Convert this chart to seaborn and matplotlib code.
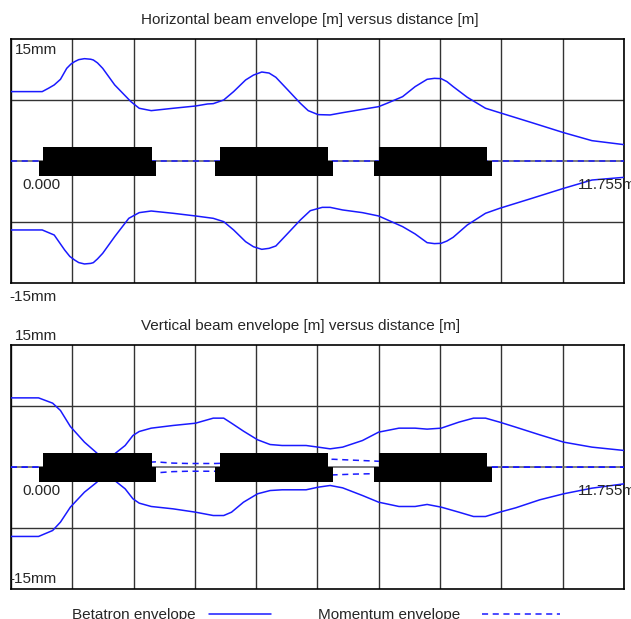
import matplotlib
matplotlib.use("Agg")
import matplotlib.pyplot as plt
import seaborn as sns
import numpy as np
import pandas as pd
from matplotlib.patches import Rectangle
from matplotlib.lines import Line2D

# Beam line length [m]
length = 11.755

# Horizontal envelope (mm) vs distance (m)
hx_up = [0, 0.60, 0.72, 0.83, 0.95, 1.07, 1.15, 1.22, 1.30, 1.41, 1.53, 1.58, 1.66, 1.76, 1.99, 2.30, 2.46, 2.69, 3.11,
         3.54, 3.77, 3.88, 4.08, 4.27, 4.50, 4.65, 4.81, 4.95, 5.08, 5.31, 5.55, 5.70, 5.89, 6.12, 6.36,
         6.74, 7.05, 7.21, 7.51, 7.75, 7.98, 8.12, 8.25, 8.36, 8.48, 8.75, 9.10, 9.37, 9.99, 10.60, 11.14, 11.755]
hy_up = [8.57, 8.57, 8.98, 9.39, 10.08, 11.43, 11.95, 12.25, 12.50, 12.62, 12.55, 12.46, 12.1, 11.43, 9.39, 7.34, 6.52, 6.23, 6.52,
         6.80, 7.05, 7.09, 7.54, 8.57, 10.0, 10.6, 10.98, 10.85, 10.33, 8.77, 7.13, 6.23, 5.74, 5.70, 5.98,
         6.39, 6.72, 7.13, 7.95, 9.18, 10.08, 10.2, 10.16, 9.8, 9.18, 7.87, 6.52, 5.98, 4.75, 3.52, 2.54, 2.05]
hx_lo = [0, 0.60, 0.83, 1.03, 1.13, 1.22, 1.30, 1.41, 1.53, 1.58, 1.66, 1.76, 1.99, 2.26, 2.46, 2.69, 3.11, 3.54, 3.88,
         4.08, 4.27, 4.50, 4.65, 4.81, 4.95, 5.08, 5.31, 5.55, 5.74, 5.97, 6.12, 6.36, 6.74, 7.05, 7.51,
         7.75, 7.98, 8.12, 8.25, 8.36, 8.48, 8.75, 9.10, 9.37, 9.99, 10.60, 11.14, 11.755]
hy_lo = [-8.44, -8.44, -9.06, -10.9, -11.7, -12.13, -12.45, -12.62, -12.55, -12.46, -12.0, -11.31, -9.26, -7.01, -6.31, -6.11, -6.39, -6.72, -7.01,
         -7.42, -8.44, -9.88, -10.5, -10.82, -10.7, -10.41, -8.85, -7.21, -6.07, -5.66, -5.66, -5.98, -6.31, -6.72, -8.03,
         -8.93, -10.0, -10.12, -10.08, -9.8, -9.34, -7.83, -6.39, -5.78, -4.55, -3.32, -2.30, -1.97]

# Vertical envelope (mm): two branches crossing near 1.8 m
vx = [0, 0.53, 0.80, 0.95, 1.14, 1.41, 1.65, 1.81, 1.99, 2.19, 2.34, 2.46, 2.69, 3.11, 3.54,
      3.88, 4.08, 4.23, 4.46, 4.73, 4.97, 5.20, 5.66, 5.89, 6.12, 6.36, 6.74, 7.05, 7.44, 7.75,
      7.98, 8.25, 8.59, 8.87, 9.10, 9.37, 9.68, 10.14, 10.60, 11.14, 11.755]
vy_a = [8.51, 8.51, 7.86, 6.96, 4.99, 3.07, 1.72, 0.0, -1.64, -2.66, -3.89, -4.42, -4.83, -5.12, -5.53,
        -5.94, -5.94, -5.53, -4.30, -3.27, -2.87, -2.78, -2.78, -2.46, -2.25, -2.54, -3.48, -4.30, -4.83, -4.83,
        -4.58, -4.91, -5.53, -6.06, -6.06, -5.53, -4.99, -4.01, -3.27, -2.58, -2.05]
vy_b = [-8.51, -8.51, -7.78, -6.75, -4.91, -3.07, -1.84, 0.0, 1.64, 2.66, 3.89, 4.38, 4.79, 5.12, 5.40,
        6.02, 6.02, 5.40, 4.42, 3.36, 2.78, 2.66, 2.66, 2.46, 2.25, 2.46, 3.27, 4.30, 4.79, 4.79,
        4.67, 4.79, 5.53, 6.02, 6.02, 5.53, 4.91, 3.97, 3.07, 2.46, 2.05]

# Momentum envelope (mm)
mh_x = [0, 11.755]
mh_y = [0, 0]
mv_x = [0, 0.54, 2.78, 3.10, 3.40, 3.92, 6.18, 6.60, 6.97, 9.22, 11.755]
mv_up = [0, 0, 0.65, 0.50, 0.45, 0.45, 0.97, 0.85, 0.75, 0, 0]
mv_lo = [0, 0, -0.70, -0.55, -0.50, -0.50, -0.95, -0.85, -0.80, 0, 0]

# Quadrupole magnets (m)
mag_top_start = [0.61, 4.00, 7.05]
mag_top_end = [2.70, 6.08, 9.13]
mag_bot_start = [0.54, 3.92, 6.97]
mag_bot_end = [2.78, 6.18, 9.22]

sns.set_style("white")
plt.rcParams["font.family"] = ["Liberation Sans", "DejaVu Sans"]
plt.rcParams["font.size"] = 11

blue = "#1a1aff"
dash = (0, (4, 3))
W, H = 631, 619
fig = plt.figure(figsize=(6.31, 6.19), dpi=100)
ax1 = fig.add_axes([0.0173, 0.5423, 0.9716, 0.3942])
ax2 = fig.add_axes([0.0173, 0.0480, 0.9716, 0.3946])


def draw_panel(ax, curves, mom):
    for xs, ys in curves:
        sns.lineplot(data=pd.DataFrame({"s": xs, "env": ys}), x="s", y="env", ax=ax,
                     color=blue, lw=1.1, estimator=None, sort=False, zorder=3)
    ax.axhline(0, color="#666666", lw=1.2, zorder=2)
    for xs, ys in mom:
        sns.lineplot(data=pd.DataFrame({"s": xs, "env": ys}), x="s", y="env", ax=ax,
                     color=blue, lw=1.1, estimator=None, sort=False, zorder=3,
                     dashes=False, linestyle=dash)
    for a, b in zip(mag_top_start, mag_top_end):
        ax.add_patch(Rectangle((a, 0), b - a, 1.75, color="black", zorder=5, lw=0))
    for a, b in zip(mag_bot_start, mag_bot_end):
        ax.add_patch(Rectangle((a, -1.8), b - a, 1.8, color="black", zorder=5, lw=0))
    ax.set_xlim(0, length)
    ax.set_ylim(-15, 15)
    ax.set_xticks(np.linspace(0, length, 11))
    ax.set_yticks([-7.5, 7.5])
    ax.grid(True, color="#333333", lw=1.0)
    ax.tick_params(length=0, labelbottom=False, labelleft=False)
    ax.set_xlabel("")
    ax.set_ylabel("")
    for sp in ax.spines.values():
        sp.set_color("black")
        sp.set_linewidth(1.2)


draw_panel(ax1, [(hx_up, hy_up), (hx_lo, hy_lo)], [(mh_x, mh_y)])
draw_panel(ax2, [(vx, vy_a), (vx, vy_b)], [(mv_x, mv_up), (mv_x, mv_lo)])

fig.text(0.2235, 1 - 20 / H, "Horizontal beam envelope [m] versus distance [m]", va="center", ha="left")
fig.text(0.2235, 1 - 326 / H, "Vertical beam envelope [m] versus distance [m]", va="center", ha="left")

# axis annotations
ax1.text(0.007, 0.956, "15mm", transform=ax1.transAxes, va="center")
ax1.text(-0.002, -0.056, "-15mm", transform=ax1.transAxes, va="center", clip_on=False)
ax1.text(0.018, 0.403, "0.000", transform=ax1.transAxes, va="center")
ax1.text(0.925, 0.403, "11.755m", transform=ax1.transAxes, va="center", clip_on=False)
ax2.text(0.007, 1.037, "15mm", transform=ax2.transAxes, va="center", clip_on=False)
ax2.text(-0.002, 0.042, "-15mm", transform=ax2.transAxes, va="center")
ax2.text(0.018, 0.402, "0.000", transform=ax2.transAxes, va="center")
ax2.text(0.925, 0.402, "11.755m", transform=ax2.transAxes, va="center", clip_on=False)

# legend along the bottom edge
ly = 1 - 614 / H
fig.text(72 / W, 1 - 615 / H, "Betatron envelope", va="center", ha="left")
fig.add_artist(Line2D([209 / W, 271 / W], [ly, ly], color=blue, lw=1.1))
fig.text(318 / W, 1 - 615 / H, "Momentum envelope", va="center", ha="left")
fig.add_artist(Line2D([482 / W, 560 / W], [ly, ly], color=blue, lw=1.1, linestyle=dash))

fig.savefig("out.png", dpi=100)
plt.close(fig)
